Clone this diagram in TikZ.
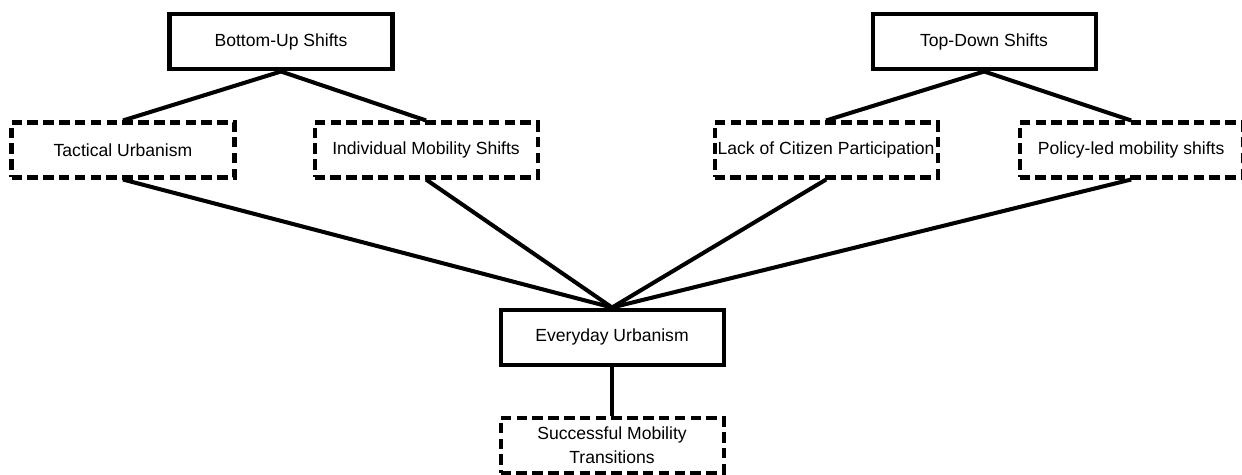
\documentclass[tikz,border=0pt]{standalone}
\usepackage{fontspec}
\setmainfont{Liberation Sans}
\usetikzlibrary{positioning}

\begin{document}
\begin{tikzpicture}[
  solidbox/.style={draw,line width=2.3pt,minimum width=4.46cm,minimum height=1.1cm,inner xsep=1pt,align=center,font=\fontsize{10}{13.6}\selectfont},
  dashbox/.style={solidbox,dash pattern=on 6pt off 3pt},
  link/.style={line width=2.3pt}]
\useasboundingbox (0,0) rectangle (24.84,-9.5);
% middle row
\node[dashbox] (tac) at (2.46,-3.0) {Tactical Urbanism};
\node[dashbox,right=1.52cm of tac] (ind) {Individual Mobility Shifts};
\node[dashbox,right=3.46cm of ind] (lack) {Lack of Citizen Participation};
\node[dashbox,right=1.56cm of lack] (pol) {Policy-led mobility shifts};
% top row
\node[solidbox,above=0.98cm of tac,xshift=3.16cm] (bu) {Bottom-Up Shifts};
\node[solidbox,above=0.98cm of lack,xshift=3.16cm] (td) {Top-Down Shifts};
% bottom
\node[solidbox,below=2.56cm of ind,xshift=3.72cm] (ev) {Everyday Urbanism};
\node[dashbox,below=0.98cm of ev] (succ) {Successful Mobility\\Transitions};
\draw[link] (bu.south) -- (tac.north);
\draw[link] (bu.south) -- (ind.north);
\draw[link] (td.south) -- (lack.north);
\draw[link] (td.south) -- (pol.north);
\foreach \n in {tac,ind,lack,pol}
  \draw[link] (\n.south) -- (ev.north);
\draw[link] (ev.south) -- (succ.north);
\end{tikzpicture}
\end{document}
